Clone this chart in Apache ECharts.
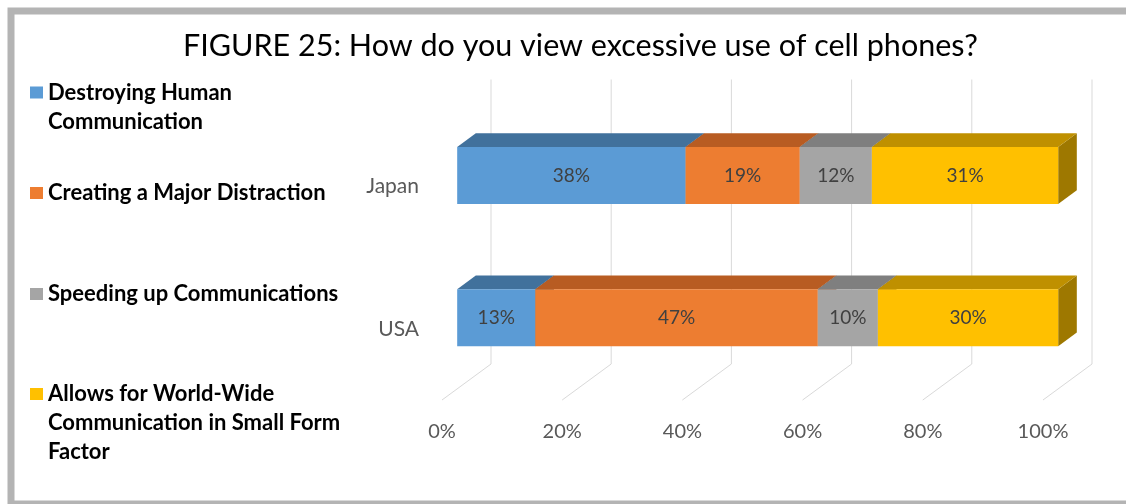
<!DOCTYPE html>
<html>
<head>
<meta charset="utf-8">
<title>FIGURE 25</title>
<script src="https://cdn.jsdelivr.net/npm/echarts@6/dist/echarts.min.js"></script>
<style>
  html, body { margin: 0; padding: 0; background: #ffffff; }
  #chart { width: 1126px; height: 504px; }
</style>
</head>
<body>
<div id="chart"></div>
<script>
// Survey answers per country (percent of respondents)
const categories = ['Japan', 'USA'];
const seriesNames = [
  'Destroying Human\nCommunication',
  'Creating a Major Distraction',
  'Speeding up Communications',
  'Allows for World-Wide\nCommunication in Small Form\nFactor'
];
const destroying = [38, 13];
const distraction = [19, 47];
const speeding = [12, 10];
const worldwide = [31, 30];
const xTicks = [0, 20, 40, 60, 80, 100];

// Face colours: front, top, right side
const frontColors = ['#5B9BD5', '#ED7D31', '#A5A5A5', '#FFC000'];
const topColors = ['#41719C', '#B85C22', '#7F7F7F', '#BF9000'];
const sideColors = ['#345B7D', '#94491B', '#666666', '#9E7800'];

// Oblique depth of the floor (pixels) and where the bars sit inside it
const DX = 49, DY = 36;
const D_FRONT = 0.31, D_BACK = 0.69;
const FONT = 'Lato, "Open Sans", sans-serif';

const valueSets = [destroying, distraction, speeding, worldwide];

// Stack the segments: [start, end, categoryIndex, value]
const stacked = valueSets.map((vals, s) =>
  vals.map((v, i) => {
    let start = 0;
    for (let k = 0; k < s; k++) start += valueSets[k][i];
    return [start, start + v, i, v];
  })
);

function makeBarRenderer(s) {
  return function (params, api) {
    const start = api.value(0), end = api.value(1), cat = api.value(2), val = api.value(3);
    const p0 = api.coord([start, cat]);
    const p1 = api.coord([end, cat]);
    const h = api.size([0, 1])[1] * 0.4;
    const x0 = p0[0] + DX * D_FRONT;
    const x1 = p1[0] + DX * D_FRONT;
    const yTop = p0[1] - DY * D_FRONT - h / 2;
    const yBot = yTop + h;
    const ox = DX * (D_BACK - D_FRONT);
    const oy = DY * (D_BACK - D_FRONT);
    return {
      type: 'group',
      children: [
        {
          type: 'polygon',
          shape: { points: [[x1, yTop], [x1 + ox, yTop - oy], [x1 + ox, yBot - oy], [x1, yBot]] },
          style: { fill: sideColors[s] }
        },
        {
          type: 'polygon',
          shape: { points: [[x0, yTop], [x1, yTop], [x1 + ox, yTop - oy], [x0 + ox, yTop - oy]] },
          style: { fill: topColors[s] }
        },
        {
          type: 'rect',
          shape: { x: x0, y: yTop, width: x1 - x0, height: h },
          style: { fill: frontColors[s] }
        },
        {
          type: 'text',
          style: {
            x: (x0 + x1) / 2,
            y: (yTop + yBot) / 2,
            text: val + '%',
            align: 'center',
            verticalAlign: 'middle',
            fill: '#404040',
            font: '19px ' + FONT
          }
        }
      ]
    };
  };
}

// Back wall and floor lines at every tick
function renderGridLine(params, api) {
  const cs = params.coordSys;
  const x = api.coord([api.value(0), 0])[0];
  const bottom = cs.y + cs.height;
  return {
    type: 'polyline',
    shape: { points: [[x + DX, cs.y - DY], [x + DX, bottom - DY], [x, bottom]] },
    style: { stroke: '#D9D9D9', lineWidth: 1, fill: null }
  };
}

// One legend block per entry so each can be placed on its own row.
// Blank leading lines keep the swatch level with the first text line.
const LH = 29;
const legendRows = [
  { center: 92.5, lines: 2 },
  { center: 193, lines: 1 },
  { center: 294, lines: 1 },
  { center: 394, lines: 3 }
];
const legends = seriesNames.map((name, i) => {
  const n = legendRows[i].lines;
  return {
    left: 30,
    top: legendRows[i].center - (2 * n - 1) * LH / 2,
    padding: 0,
    orient: 'vertical',
    icon: 'rect',
    itemWidth: 13,
    itemHeight: 12,
    itemGap: 0,
    selectedMode: false,
    formatter: function (label) {
      return '\n'.repeat(n - 1) + label;
    },
    textStyle: {
      fontFamily: FONT,
      fontWeight: 'bold',
      fontSize: 22,
      color: '#000000',
      lineHeight: LH
    },
    data: [{ name: name, itemStyle: { color: frontColors[i] } }]
  };
});

const chart = echarts.init(document.getElementById('chart'));
chart.setOption({
  animation: false,
  backgroundColor: '#ffffff',
  color: frontColors,
  title: {
    text: 'FIGURE 25: How do you view excessive use of cell phones?',
    left: 183,
    top: 31,
    padding: 0,
    textStyle: { fontFamily: FONT, fontWeight: 'normal', fontSize: 30.5, color: '#000000' }
  },
  legend: legends,
  graphic: [{
    type: 'rect',
    shape: { x: 11, y: 11, width: 1140, height: 493 },
    style: { fill: null, stroke: '#B4B4B4', lineWidth: 7 },
    silent: true
  }],
  grid: { left: 442, right: 83, top: 115.5, bottom: 104, containLabel: false },
  xAxis: {
    type: 'value',
    min: 0,
    max: 100,
    interval: 20,
    axisLine: { show: false },
    axisTick: { show: false },
    splitLine: { show: false },
    axisLabel: {
      formatter: '{value}%',
      margin: 22,
      color: '#595959',
      fontFamily: FONT,
      fontSize: 20
    }
  },
  yAxis: {
    type: 'category',
    data: categories,
    inverse: true,
    axisLine: { show: false },
    axisTick: { show: false },
    splitLine: { show: false },
    axisLabel: {
      margin: 23,
      padding: [6, 0, 0, 0],
      color: '#595959',
      fontFamily: FONT,
      fontSize: 21
    }
  },
  series: [
    {
      type: 'custom',
      name: 'grid',
      silent: true,
      renderItem: renderGridLine,
      encode: { x: 0, y: 1 },
      data: xTicks.map(v => [v, 0]),
      z: 1
    }
  ].concat(stacked.map((data, s) => ({
    type: 'custom',
    name: seriesNames[s],
    itemStyle: { color: frontColors[s] },
    renderItem: makeBarRenderer(s),
    encode: { x: [0, 1], y: 2 },
    data: data,
    z: 2
  })))
});
</script>
</body>
</html>
